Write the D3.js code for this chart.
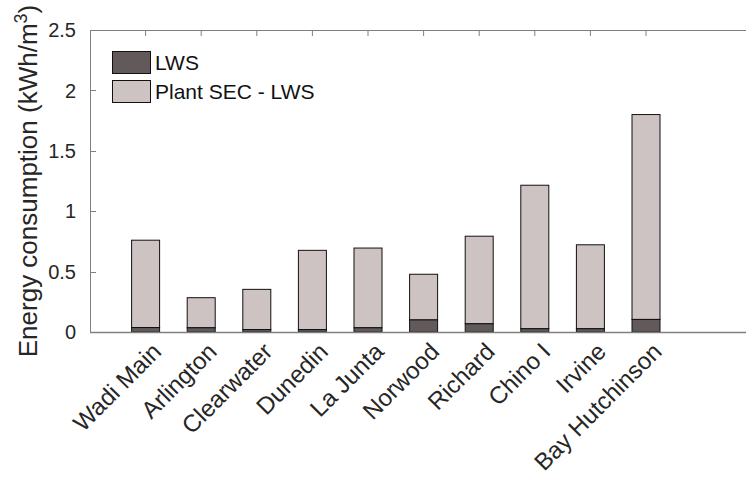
<!DOCTYPE html>
<html><head><meta charset="utf-8">
<script src="https://cdn.jsdelivr.net/npm/d3@7"></script>
<style>body{margin:0;background:#fff}svg{display:block;font-family:"Liberation Sans",Arial,sans-serif}</style>
</head><body><svg id="c" width="746" height="481"></svg>
<script>
const categories = ["Wadi Main","Arlington","Clearwater","Dunedin","La Junta","Norwood","Richard","Chino I","Irvine","Bay Hutchinson"];
const lws = [0.037,0.035,0.02,0.02,0.035,0.10,0.068,0.027,0.027,0.104];
const totalSEC = [0.76,0.284,0.353,0.676,0.695,0.478,0.793,1.215,0.722,1.80];
const plantMinusLws = totalSEC.map((t,i)=>+(t-lws[i]).toFixed(3));
const yTicks = [0,0.5,1,1.5,2,2.5];
const seriesNames = ["LWS","Plant SEC - LWS"];
const colors = ["#625a5a","#cdc3c3"];

const svg = d3.select("#c");
const L=90, T=30, B=332;
const x = d3.scaleLinear().domain([0,12]).range([L, L+12*55.6]);
const y = d3.scaleLinear().domain([0,2.5]).range([B,T]);
const R = x(12);
const bw = 28;

// bars
const g = svg.append("g");
categories.forEach((c,i)=>{
  const cx = x(i+1);
  g.append("rect").attr("x",cx-bw/2).attr("width",bw)
    .attr("y",y(lws[i]+plantMinusLws[i])).attr("height",y(lws[i])-y(lws[i]+plantMinusLws[i]))
    .attr("fill",colors[1]).attr("stroke","#111").attr("stroke-width",1);
  g.append("rect").attr("x",cx-bw/2).attr("width",bw)
    .attr("y",y(lws[i])).attr("height",y(0)-y(lws[i]))
    .attr("fill",colors[0]).attr("stroke","#111").attr("stroke-width",1);
});

// axes box
const ax = svg.append("g").attr("stroke","#808080").attr("fill","none").attr("stroke-width",1);
ax.append("line").attr("x1",L+0.5).attr("x2",L+0.5).attr("y1",T).attr("y2",B);
ax.append("line").attr("x1",L).attr("x2",R).attr("y1",T+0.5).attr("y2",T+0.5);
ax.append("line").attr("x1",L).attr("x2",R).attr("y1",B+0.5).attr("y2",B+0.5).attr("stroke-width",1.5);
ax.append("line").attr("x1",R).attr("x2",R).attr("y1",T).attr("y2",B);
yTicks.forEach(v=>{
  ax.append("line").attr("x1",L).attr("x2",L+6).attr("y1",Math.round(y(v))+0.5).attr("y2",Math.round(y(v))+0.5);
});
categories.forEach((c,i)=>{
  ax.append("line").attr("x1",x(i+1)).attr("x2",x(i+1)).attr("y1",T).attr("y2",T+6);
});

// y tick labels
svg.append("g").selectAll("text").data(yTicks).join("text")
  .attr("x",76).attr("y",d=>y(d)).attr("dy","0.36em").attr("text-anchor","end")
  .attr("font-size",20).attr("fill","#262626").text(d=>d);

// x tick labels
svg.append("g").selectAll("text").data(categories).join("text")
  .attr("transform",(d,i)=>`translate(${x(i+1)+11},${B+15}) rotate(-45)`)
  .attr("text-anchor","end").attr("dy","0.36em")
  .attr("font-size",24).attr("fill","#262626").text(d=>d);

// y label
const yl = svg.append("text").attr("transform",`translate(37,${(T+B)/2}) rotate(-90)`)
  .attr("text-anchor","middle").attr("font-size",26).attr("fill","#262626");
yl.append("tspan").text("Energy consumption (kWh/m");
yl.append("tspan").attr("dy",-10).attr("font-size",18).text("3");
yl.append("tspan").attr("dy",10).text(")");

// legend
const lg = svg.append("g");
seriesNames.forEach((s,i)=>{
  lg.append("rect").attr("x",112.5).attr("y",51.5+i*29).attr("width",38).attr("height",22)
    .attr("fill",colors[i]).attr("stroke","#111");
  lg.append("text").attr("x",155).attr("y",62.5+i*29).attr("dy","0.36em")
    .attr("font-size",21).attr("fill","#111").text(s);
});
</script></body></html>
